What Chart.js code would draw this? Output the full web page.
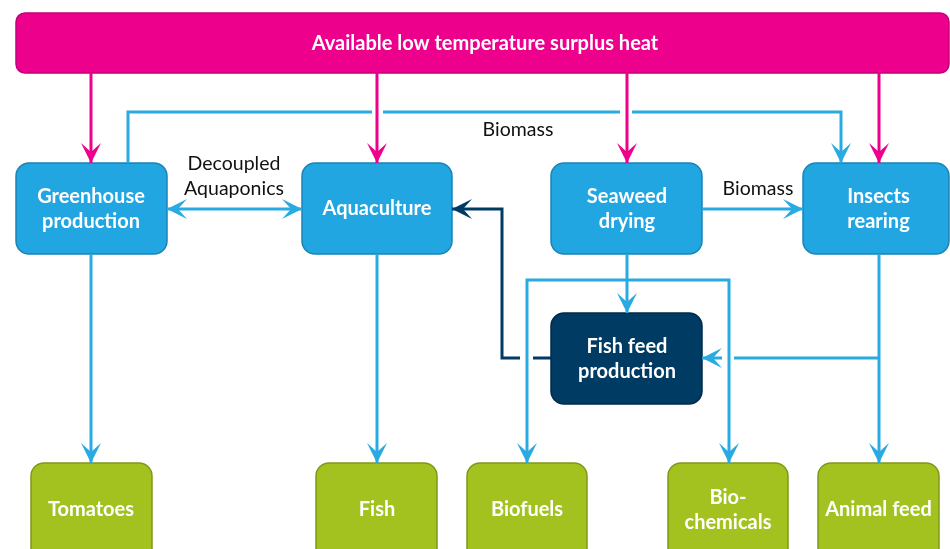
<!DOCTYPE html>
<html>
<head>
<meta charset="utf-8">
<script src="https://cdn.jsdelivr.net/npm/chart.js@4.4.1/dist/chart.umd.min.js"></script>
<style>
  html, body { margin: 0; padding: 0; background: #fff; }
  #wrap { width: 950px; height: 549px; }
</style>
</head>
<body>
<div id="wrap"><canvas id="flow"></canvas></div>
<script>
// nodes of the flow diagram (diagram units = reference pixels)
const nodeText = ['Available low temperature surplus heat', 'Greenhouse\nproduction', 'Aquaculture',
  'Seaweed\ndrying', 'Insects\nrearing', 'Fish feed\nproduction',
  'Tomatoes', 'Fish', 'Biofuels', 'Bio-\nchemicals', 'Animal feed'];
const nodeKind = ['heat', 'process', 'process', 'process', 'process', 'feed',
  'product', 'product', 'product', 'product', 'product'];
const nodeLeft = [16, 16, 302, 551, 803, 551, 31, 316, 467, 668, 818];
const nodeRight = [949, 167, 452, 702, 949, 702, 152, 437, 587, 788, 939];
const nodeTop = [13, 163, 163, 163, 163, 313, 463, 463, 463, 463, 463];
const nodeBottom = [73, 254, 254, 254, 254, 404, 580, 580, 580, 580, 580];
const nodeTextX = [485, 91, 377, 627, 878.5, 627, 91, 377, 527, 728, 878.5];
const nodeTextY = [44, 209, 209, 209, 209, 359, 510, 510, 510, 510, 510];

// links: polylines, null breaks the line where another one crosses
const linkPaths = [
  [[91, 73], [91, 163]],
  [[377, 73], [377, 163]],
  [[627, 73], [627, 163]],
  [[879, 73], [879, 163]],
  [[128, 163], [128, 112], [372, 112], null, [383, 112], [620, 112], null, [632, 112], [841, 112], [841, 163]],
  [[167, 209], [302, 209]],
  [[702, 209], [803, 209]],
  [[91, 254], [91, 463]],
  [[377, 254], [377, 463]],
  [[627, 254], [627, 313]],
  [[527, 463], [527, 280], [729, 280], [729, 463]],
  [[879, 254], [879, 463]],
  [[879, 358], [734, 358], null, [722, 358], [702, 358]],
  [[551, 358], [533, 358], null, [520, 358], [502, 358], [502, 209], [452, 209]]
];
const linkKind = ['heat', 'heat', 'heat', 'heat', 'flow', 'flow', 'flow', 'flow', 'flow',
  'flow', 'flow', 'flow', 'flow', 'feed'];
const linkArrows = ['end', 'end', 'end', 'end', 'end', 'both', 'end', 'end', 'end',
  'end', 'both', 'end', 'end', 'end'];

const edgeLabelText = ['Decoupled\nAquaponics', 'Biomass', 'Biomass'];
const edgeLabelX = [234, 518, 758];
const edgeLabelY = [176, 130, 189];

const FILL = { heat: '#ec008c', process: '#22a6e1', feed: '#003b64', product: '#a3c21f' };
const STROKE = { heat: '#c4007a', process: '#1a84b6', feed: '#002a4a', product: '#7f9a16' };
const LINE = { heat: '#ec008c', flow: '#29abe2', feed: '#003b64' };
const FONT = 'Lato, "Open Sans", sans-serif';

function roundRect(ctx, x0, y0, x1, y1, r) {
  ctx.beginPath();
  ctx.moveTo(x0 + r, y0);
  ctx.lineTo(x1 - r, y0);
  ctx.arcTo(x1, y0, x1, y0 + r, r);
  ctx.lineTo(x1, y1 - r);
  ctx.arcTo(x1, y1, x1 - r, y1, r);
  ctx.lineTo(x0 + r, y1);
  ctx.arcTo(x0, y1, x0, y1 - r, r);
  ctx.lineTo(x0, y0 + r);
  ctx.arcTo(x0, y0, x0 + r, y0, r);
  ctx.closePath();
}

function arrowHead(ctx, tip, from, color) {
  const dx = tip.x - from.x, dy = tip.y - from.y;
  const len = Math.hypot(dx, dy) || 1;
  const ux = dx / len, uy = dy / len;
  const px = -uy, py = ux;
  const L = 20, W = 10, N = 11;
  ctx.beginPath();
  ctx.moveTo(tip.x, tip.y);
  ctx.lineTo(tip.x - ux * L + px * W, tip.y - uy * L + py * W);
  ctx.lineTo(tip.x - ux * N, tip.y - uy * N);
  ctx.lineTo(tip.x - ux * L - px * W, tip.y - uy * L - py * W);
  ctx.closePath();
  ctx.fillStyle = color;
  ctx.fill();
}

const diagramPlugin = {
  id: 'diagram',
  beforeDatasetsDraw(chart) {
    const { ctx, scales: { x, y } } = chart;
    ctx.save();
    nodeText.forEach((t, i) => {
      const k = nodeKind[i];
      roundRect(ctx, x.getPixelForValue(nodeLeft[i]), y.getPixelForValue(nodeTop[i]),
        x.getPixelForValue(nodeRight[i]), y.getPixelForValue(nodeBottom[i]), k === 'heat' ? 9 : 13);
      ctx.fillStyle = FILL[k];
      ctx.fill();
      ctx.lineWidth = 1.5;
      ctx.strokeStyle = STROKE[k];
      ctx.stroke();
    });
    ctx.restore();
  },
  afterDatasetsDraw(chart) {
    const { ctx, scales: { x, y } } = chart;
    ctx.save();
    chart.data.datasets.forEach((ds, i) => {
      const pts = chart.getDatasetMeta(i).data.filter(p => !p.skip);
      const n = pts.length;
      arrowHead(ctx, pts[n - 1], pts[n - 2], ds.borderColor);
      if (linkArrows[i] === 'both') arrowHead(ctx, pts[0], pts[1], ds.borderColor);
    });
    ctx.textAlign = 'center';
    ctx.textBaseline = 'middle';
    ctx.fillStyle = '#fff';
    ctx.font = 'bold 20px ' + FONT;
    nodeText.forEach((t, i) => {
      const lines = t.split('\n');
      const cx = x.getPixelForValue(nodeTextX[i]);
      const cy = y.getPixelForValue(nodeTextY[i]);
      lines.forEach((ln, j) => ctx.fillText(ln, cx, cy + (j - (lines.length - 1) / 2) * 25));
    });
    ctx.fillStyle = '#111';
    ctx.font = '19.5px ' + FONT;
    edgeLabelText.forEach((t, i) => {
      const lines = t.split('\n');
      lines.forEach((ln, j) => ctx.fillText(ln,
        x.getPixelForValue(edgeLabelX[i]),
        y.getPixelForValue(edgeLabelY[i]) + (j - (lines.length - 1) / 2) * 25));
    });
    ctx.restore();
  }
};

new Chart(document.getElementById('flow'), {
  type: 'scatter',
  data: {
    datasets: linkPaths.map((path, i) => ({
      label: 'link ' + i,
      data: path.map(p => p ? { x: p[0], y: p[1] } : { x: null, y: null }),
      showLine: true,
      spanGaps: false,
      borderColor: LINE[linkKind[i]],
      borderWidth: 3,
      borderCapStyle: 'butt',
      borderJoinStyle: 'miter',
      pointRadius: 0,
      pointHoverRadius: 0,
      clip: false
    }))
  },
  options: {
    responsive: true,
    maintainAspectRatio: false,
    animation: false,
    events: [],
    layout: { padding: 0 },
    scales: {
      x: { type: 'linear', min: 0, max: 950, display: false },
      y: { type: 'linear', min: 0, max: 549, reverse: true, display: false }
    },
    plugins: { legend: { display: false }, tooltip: { enabled: false } }
  },
  plugins: [diagramPlugin]
});
</script>
</body>
</html>
